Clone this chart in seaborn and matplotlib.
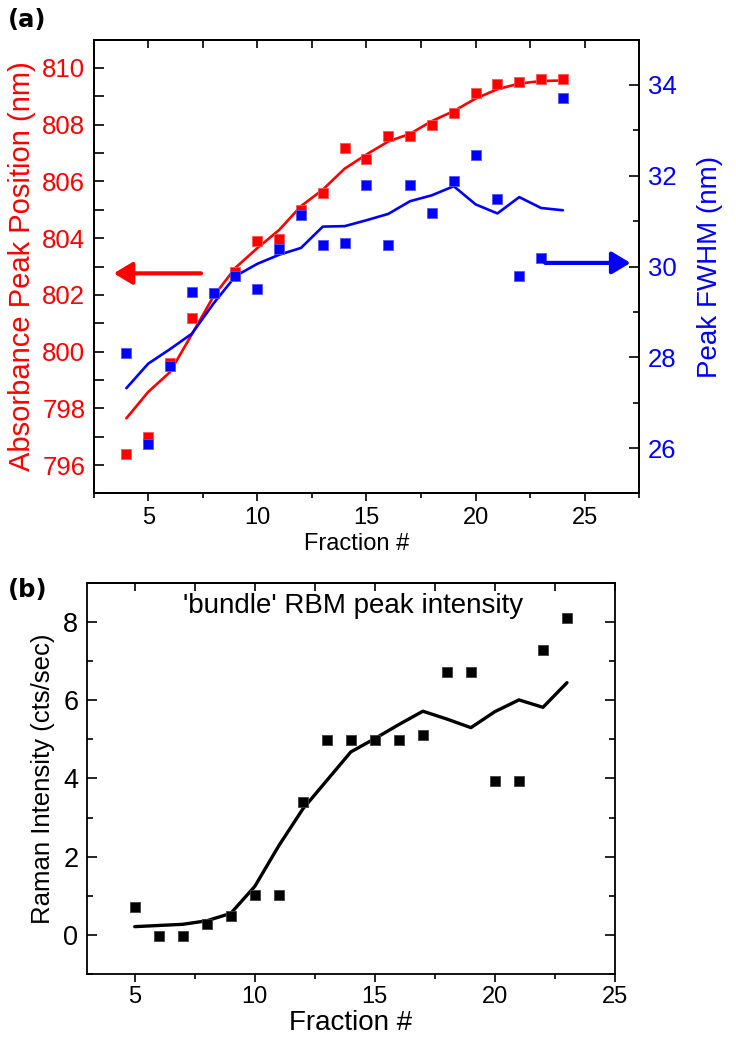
import numpy as np
import pandas as pd
import matplotlib
matplotlib.use("Agg")
import matplotlib.pyplot as plt
import seaborn as sns
from matplotlib.ticker import MultipleLocator

# ---------------- data: panel (a) ----------------
fraction_a = [4, 5, 6, 7, 8, 9, 10, 11, 12, 13, 14, 15, 16, 17, 18, 19, 20, 21, 22, 23, 24]
abs_peak_pts = [796.39, 797.00, 799.61, 801.20, 802.08, 802.81, 803.89, 803.98, 805.01, 805.59,
                807.18, 806.80, 807.59, 807.59, 807.98, 808.40, 809.11, 809.42, 809.51, 809.60, 809.60]
abs_peak_fit = [797.65, 798.58, 799.28, 800.61, 801.96, 802.96, 803.65, 804.29, 805.13, 805.71,
                806.45, 806.95, 807.41, 807.68, 808.13, 808.48, 808.92, 809.25, 809.45, 809.54, 809.56]
fwhm_pts = [28.09, 26.10, 27.80, 29.43, 29.41, 29.80, 29.50, 30.38, 31.13, 30.48,
            30.51, 31.79, 30.48, 31.79, 31.19, 31.89, 32.45, 31.49, 29.80, 30.18, 33.71]
fwhm_fit = [27.32, 27.86, 28.18, 28.52, 29.19, 29.79, 30.06, 30.26, 30.41, 30.88,
            30.89, 31.02, 31.16, 31.44, 31.57, 31.77, 31.37, 31.17, 31.53, 31.29, 31.24]

# ---------------- data: panel (b) ----------------
fraction_b = [5, 6, 7, 8, 9, 10, 11, 12, 13, 14, 15, 16, 17, 18, 19, 20, 21, 22, 23]
raman_pts = [0.72, -0.03, -0.03, 0.27, 0.49, 1.03, 1.03, 3.41, 4.99, 4.99,
             4.99, 4.99, 5.12, 6.72, 6.72, 3.93, 3.93, 7.29, 8.10]
raman_fit = [0.21, 0.24, 0.27, 0.36, 0.55, 1.24, 2.28, 3.22, 3.95, 4.68,
             5.02, 5.38, 5.72, 5.52, 5.30, 5.71, 6.01, 5.82, 6.45]

df_a = pd.DataFrame({"fraction": fraction_a, "abs_pts": abs_peak_pts, "abs_fit": abs_peak_fit,
                     "fwhm_pts": fwhm_pts, "fwhm_fit": fwhm_fit})
df_b = pd.DataFrame({"fraction": fraction_b, "pts": raman_pts, "fit": raman_fit})

sns.set_style("ticks")
plt.rcParams["font.family"] = ["Liberation Sans", "DejaVu Sans"]
plt.rcParams["axes.linewidth"] = 1.3
for k in ("text.color", "axes.labelcolor", "xtick.color", "ytick.color", "axes.edgecolor"):
    plt.rcParams[k] = "black"

RED = "#ff0000"
BLUE = "#0000ff"

fig = plt.figure(figsize=(7.36, 10.42), dpi=100)

# ================= panel (a) =================
ax = fig.add_axes([0.1272, 0.5264, 0.7414, 0.4356])
ax2 = ax.twinx()

sns.lineplot(data=df_a, x="fraction", y="abs_fit", ax=ax, color=RED, lw=1.9, legend=False)
sns.scatterplot(data=df_a, x="fraction", y="abs_pts", ax=ax, color=RED, marker="s", s=45,
                linewidth=0.6, edgecolor="#ff5555", legend=False, zorder=3)
sns.lineplot(data=df_a, x="fraction", y="fwhm_fit", ax=ax2, color=BLUE, lw=1.9, legend=False)
sns.scatterplot(data=df_a, x="fraction", y="fwhm_pts", ax=ax2, color=BLUE, marker="s", s=45,
                linewidth=0.6, edgecolor="#5555ff", legend=False, zorder=3)

ax.set_xlim(2.5, 27.5)
ax.set_ylim(795, 811)
ax2.set_ylim(25, 35)

ax.xaxis.set_major_locator(MultipleLocator(5))
ax.xaxis.set_minor_locator(MultipleLocator(2.5))
ax.yaxis.set_major_locator(MultipleLocator(2))
ax.yaxis.set_minor_locator(MultipleLocator(1))
ax2.yaxis.set_major_locator(MultipleLocator(2))
ax2.yaxis.set_minor_locator(MultipleLocator(1))

ax.tick_params(axis="x", which="major", direction="out", length=6, width=1.2, labelsize=17, pad=4)
ax.tick_params(axis="x", which="minor", direction="out", length=3.5, width=1.2)
ax.tick_params(axis="y", which="both", direction="in", length=7, width=1.2, labelsize=18.5,
               labelcolor=RED, pad=6)
ax.tick_params(axis="y", which="minor", length=7)
ax2.tick_params(axis="y", which="major", direction="in", length=7, width=1.2, labelsize=18.5,
                labelcolor=BLUE, pad=6)
ax2.tick_params(axis="y", which="minor", direction="in", length=4.5, width=1.2)

topa = ax.secondary_xaxis("top")
topa.xaxis.set_major_locator(MultipleLocator(2.5))
topa.tick_params(axis="x", direction="in", length=6, width=1.2, labeltop=False)

ax.set_xlabel("Fraction #", fontsize=17, labelpad=2)
ax.xaxis.set_label_coords(0.482, -0.088)
ax.xaxis.label.set_verticalalignment("top")
ax.set_ylabel("Absorbance Peak Position (nm)", fontsize=21, color=RED)
ax.yaxis.label.set_verticalalignment("center")
ax.yaxis.set_label_coords(-0.131, 0.5)
ax2.set_ylabel("Peak FWHM (nm)", fontsize=20, color=BLUE)
ax2.yaxis.label.set_verticalalignment("center")
ax2.yaxis.set_label_coords(1.129, 0.5)

ax.annotate("", xy=(3.42, 802.76), xytext=(7.42, 802.76),
            arrowprops=dict(arrowstyle="-|>,head_length=0.4,head_width=0.24", color=RED,
                            lw=3, mutation_scale=28, shrinkA=0, shrinkB=0))
ax2.annotate("", xy=(27.1, 30.08), xytext=(23.19, 30.08),
             arrowprops=dict(arrowstyle="-|>,head_length=0.4,head_width=0.24", color=BLUE,
                             lw=3, mutation_scale=28, shrinkA=0, shrinkB=0))

for a in (ax, ax2):
    for sp in a.spines.values():
        sp.set_color("black")
        sp.set_linewidth(1.3)

fig.text(8 / 736, 1 - 27 / 1042, "(a)", fontsize=17.5, fontweight="bold", family="DejaVu Sans",
         ha="left", va="baseline")

# ================= panel (b) =================
bx = fig.add_axes([0.1178, 0.0653, 0.7178, 0.3752])
sns.lineplot(data=df_b, x="fraction", y="fit", ax=bx, color="black", lw=2.4, legend=False)
sns.scatterplot(data=df_b, x="fraction", y="pts", ax=bx, color="black", marker="s", s=58,
                linewidth=0.6, edgecolor="#404040", legend=False, zorder=3)

bx.set_xlim(3, 25)
bx.set_ylim(-1, 9)
bx.xaxis.set_major_locator(MultipleLocator(5))
bx.xaxis.set_minor_locator(MultipleLocator(2.5))
bx.yaxis.set_major_locator(MultipleLocator(2))
bx.yaxis.set_minor_locator(MultipleLocator(1))
bx.tick_params(axis="x", which="major", direction="out", length=6, width=1.2, labelsize=17, pad=3)
bx.tick_params(axis="x", which="minor", direction="out", length=3.5, width=1.2)
bx.tick_params(axis="y", which="major", direction="in", length=7, width=1.2, labelsize=19.5,
               right=True, pad=6)
bx.tick_params(axis="y", which="minor", direction="in", length=4.5, width=1.2, right=True)

topb = bx.secondary_xaxis("top")
topb.xaxis.set_major_locator(MultipleLocator(2.5))
topb.tick_params(axis="x", direction="in", length=6, width=1.2, labeltop=False)

bx.set_xlabel("Fraction #", fontsize=20, labelpad=1)
bx.set_ylabel("Raman Intensity (cts/sec)", fontsize=18.5)
bx.yaxis.label.set_verticalalignment("center")
bx.yaxis.set_label_coords(-0.083, 0.5)

bx.text(14.09, 8.24, "'bundle' RBM peak intensity", fontsize=20, ha="center", va="baseline")

for sp in bx.spines.values():
    sp.set_color("black")
    sp.set_linewidth(1.3)

fig.text(8 / 736, 1 - 597 / 1042, "(b)", fontsize=17.5, fontweight="bold", family="DejaVu Sans",
         ha="left", va="baseline")

fig.savefig("out.png", dpi=100)
